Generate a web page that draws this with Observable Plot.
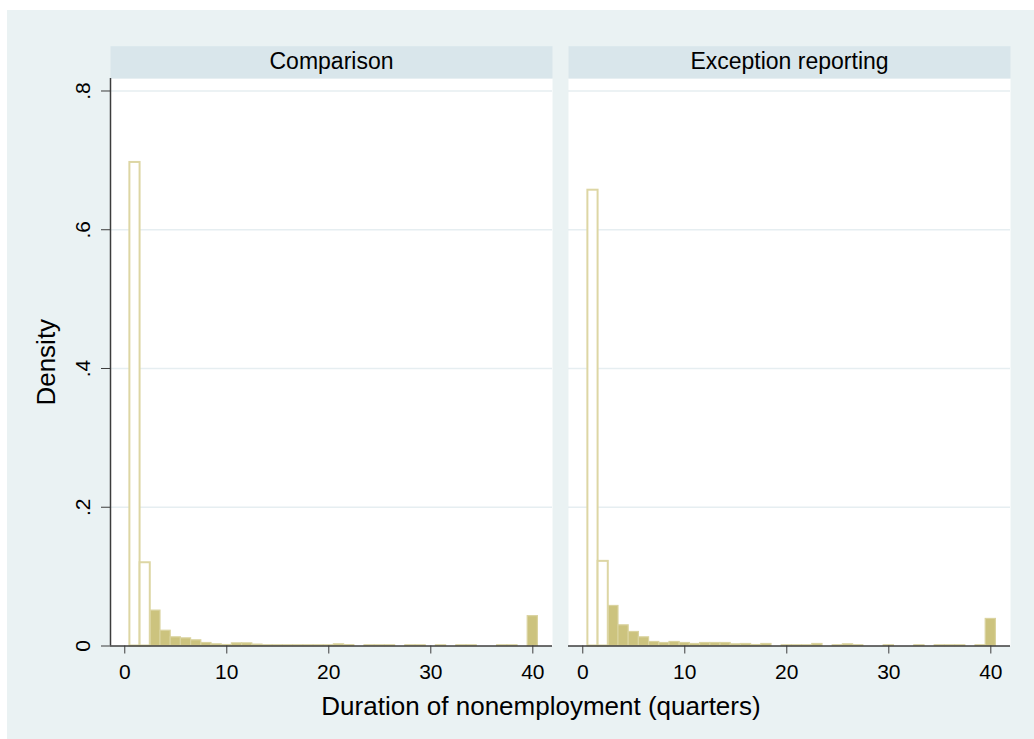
<!DOCTYPE html>
<html>
<head>
<meta charset="utf-8">
<script src="https://cdn.jsdelivr.net/npm/d3@7"></script>
<script src="https://cdn.jsdelivr.net/npm/@observablehq/plot@0.6"></script>
<style>
  html, body { margin: 0; padding: 0; background: #ffffff; width: 1034px; height: 739px; overflow: hidden; }
  #bg { position: absolute; left: 7px; top: 10px; width: 1027px; height: 729px; background: #eaf2f3; }
  #chart { position: absolute; left: 0; top: 0; }
  #xtitle { position: absolute; left: 241px; width: 600px; top: 693px; text-align: center;
            font-family: "Liberation Sans", Arial, sans-serif; font-size: 26px; line-height: 26px; color: #000; }
</style>
</head>
<body>
<div id="bg"></div>
<div id="chart"></div>
<div id="xtitle">Duration of nonemployment (quarters)</div>
<script>
const panels = ["Comparison", "Exception reporting"];
const durations = [1, 2, 3, 4, 5, 6, 7, 8, 9, 10, 11, 12, 13, 14, 15, 16, 17, 18, 19, 20,
                   21, 22, 23, 24, 25, 26, 27, 28, 29, 30, 31, 32, 33, 34, 35, 36, 37, 38, 39, 40];
const comparisonDensity = [0.697, 0.120, 0.051, 0.022, 0.0125, 0.011, 0.0082, 0.0043, 0.0024, 0.0014,
                           0.0038, 0.0038, 0.002, 0.001, 0.001, 0.001, 0.001, 0.001, 0.001, 0.001,
                           0.0024, 0.0012, 0, 0.001, 0.001, 0.001, 0, 0.001, 0.001, 0,
                           0.001, 0, 0.001, 0.001, 0, 0, 0.001, 0.001, 0, 0.043];
const exceptionDensity = [0.657, 0.122, 0.0577, 0.0298, 0.0202, 0.0125, 0.0058, 0.0043, 0.0058, 0.0043,
                          0.0029, 0.0043, 0.0043, 0.0043, 0.0024, 0.0029, 0.0014, 0.0029, 0, 0.001,
                          0.001, 0.001, 0.0029, 0, 0.001, 0.0024, 0.001, 0, 0, 0.001,
                          0, 0, 0.001, 0, 0.001, 0.001, 0.001, 0, 0.001, 0.039];
const hollowDurations = [1, 2];
const xTicks = [0, 10, 20, 30, 40];
const yTicks = [0, 0.2, 0.4, 0.6, 0.8];
const yTitle = "Density";
const xDomain = [-1.40, 41.93];
const yDomain = [0, 0.818];

const bins = [];
panels.forEach((p, i) => {
  const vals = i === 0 ? comparisonDensity : exceptionDensity;
  durations.forEach((d, j) => {
    if (vals[j] > 0) bins.push({panel: p, x1: d - 0.5, x2: d + 0.5, density: vals[j], hollow: hollowDurations.includes(d)});
  });
});
const filled = bins.filter(b => !b.hollow);
const hollow = bins.filter(b => b.hollow);

const W = 1034, H = 690, mT = 78, mB = 44.5;
const plotH = H - mT - mB;
const font = "'Liberation Sans', Arial, sans-serif";
const fmt = d => d === 0 ? "0" : String(d).replace(/^0/, "");

const chart = Plot.plot({
  width: W, height: H,
  marginLeft: 110, marginRight: 24, marginTop: mT, marginBottom: mB,
  style: {background: "transparent", fontFamily: font, fontSize: "21px", color: "#000", overflow: "visible"},
  fx: {domain: panels, paddingInner: 0.035, paddingOuter: 0, axis: null, label: null},
  x: {domain: xDomain},
  y: {domain: yDomain},
  marks: [
    Plot.frame({fill: "white", stroke: null}),
    Plot.frame({fill: "#d9e6eb", stroke: null, insetTop: -32.3, insetBottom: plotH}),
    Plot.ruleY(yTicks.filter(d => d > 0), {stroke: "#e6eef1", strokeWidth: 1.5}),
    Plot.rectY(filled, {fx: "panel", x1: "x1", x2: "x2", y: "density", fill: "#ccc37e", stroke: "#dad39f", strokeWidth: 1.2}),
    Plot.rectY(hollow, {fx: "panel", x1: "x1", x2: "x2", y: "density", fill: "white", stroke: "#ddd6a4", strokeWidth: 2}),
    Plot.ruleY([0], {stroke: "#3c3c3c", strokeWidth: 1.5}),
    Plot.ruleX([xDomain[0]], {fx: () => panels[0], stroke: "#3c3c3c", strokeWidth: 1.5}),
    Plot.axisX({ticks: xTicks, tickSize: 8, tickPadding: 10.5, fontSize: 21, stroke: "#3c3c3c", fill: "#000", label: null}),
    Plot.axisY({ticks: yTicks, tickSize: 9, tickPadding: 12, tickRotate: -90, tickFormat: fmt, fontSize: 21,
                stroke: "#3c3c3c", fill: "#000", label: null}),
    Plot.text([yTitle], {fx: () => panels[0], text: d => d, frameAnchor: "left", rotate: -90, dx: -73.5,
                         lineAnchor: "top", textAnchor: "middle", fontSize: 26, fill: "#000"}),
    Plot.text(panels, {fx: d => d, text: d => d, frameAnchor: "top", dy: -17, lineAnchor: "middle", fontSize: 23, fill: "#000"})
  ]
});
document.getElementById("chart").appendChild(chart);
</script>
</body>
</html>
